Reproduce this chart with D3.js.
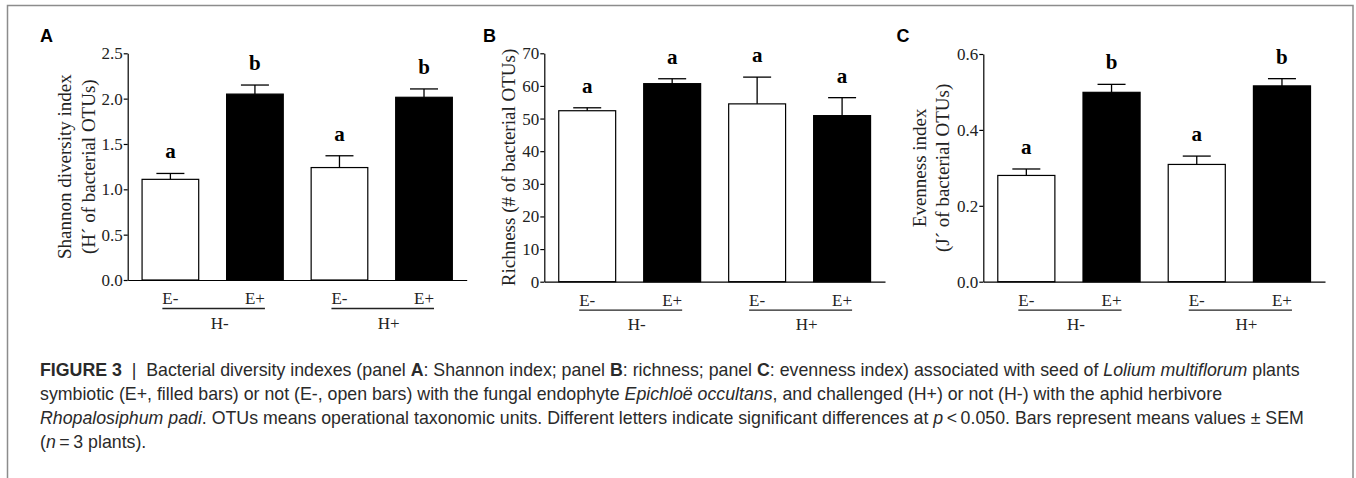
<!DOCTYPE html>
<html>
<head>
<meta charset="utf-8">
<script src="https://cdn.jsdelivr.net/npm/d3@7"></script>
<style>
  body { margin: 0; background: #fff; }
  svg { display: block; }
</style>
</head>
<body>
<div id="chart"></div>
<script>
// treatments (endophyte within herbivory)
const endophyte = ["E-", "E+", "E-", "E+"];
const herbivory = ["H-", "H+"];

// panel A: Shannon
const shannon = [1.11, 2.05, 1.24, 2.015];
const shannonSem = [0.065, 0.10, 0.13, 0.092];
const shannonLetters = ["a", "b", "a", "b"];
const shannonTicks = [0, 0.5, 1.0, 1.5, 2.0, 2.5];

// panel B: richness
const richness = [52.4, 60.7, 54.5, 50.9];
const richnessSem = [0.9, 1.5, 8.2, 5.5];
const richnessLetters = ["a", "a", "a", "a"];
const richnessTicks = [0, 10, 20, 30, 40, 50, 60, 70];

// panel C: evenness
const evenness = [0.280, 0.499, 0.309, 0.516];
const evennessSem = [0.017, 0.021, 0.022, 0.019];
const evennessLetters = ["a", "b", "a", "b"];
const evennessTicks = [0, 0.2, 0.4, 0.6];

const width = 1356, height = 478;
const serif = "'Liberation Serif', 'Times New Roman', serif";
const sans = "'Liberation Sans', Arial, Helvetica, sans-serif";

const svg = d3.select("#chart").append("svg")
    .attr("width", width)
    .attr("height", height);

// frame
svg.append("rect")
    .attr("x", 7.5).attr("y", 5.5)
    .attr("width", 1345.5).attr("height", 520)
    .attr("fill", "none")
    .attr("stroke", "#8c8c8c")
    .attr("stroke-width", 1.5);

const panels = [
    { id: "A", vals: shannon, sem: shannonSem, letters: shannonLetters, ticks: shannonTicks,
      max: 2.5, fmt: d3.format(".1f"), x0: 127.7, x1: 466.7, top: 53.3, bottom: 280,
      title: ["Shannon diversity index", "(H\u00b4 of bacterial OTUs)"], titleX: [71, 95], labelX: 40 },
    { id: "B", vals: richness, sem: richnessSem, letters: richnessLetters, ticks: richnessTicks,
      max: 70, fmt: d3.format("d"), x0: 544.3, x1: 885, top: 53.3, bottom: 281.7,
      title: ["Richness (# of bacterial OTUs)"], titleX: [515], labelX: 483 },
    { id: "C", vals: evenness, sem: evennessSem, letters: evennessLetters, ticks: evennessTicks,
      max: 0.6, fmt: d3.format(".1f"), x0: 983.3, x1: 1325, top: 54, bottom: 281.7,
      title: ["Evenness index", "(J\u00b4 of bacterial OTUs)"], titleX: [926, 949], labelX: 896.5 }
];

panels.forEach(p => {
    const g = svg.append("g");

    const x = d3.scaleBand()
        .domain(d3.range(endophyte.length))
        .range([p.x0, p.x1])
        .paddingInner(0.33)
        .paddingOuter(0.17);

    const y = d3.scaleLinear()
        .domain([0, p.max])
        .range([p.bottom, p.top]);

    // bars
    g.append("g")
        .selectAll("rect")
        .data(p.vals)
        .join("rect")
        .attr("x", (d, i) => x(i))
        .attr("y", d => y(d))
        .attr("width", x.bandwidth())
        .attr("height", d => y(0) - y(d))
        .attr("fill", (d, i) => endophyte[i] === "E+" ? "#000" : "#fff")
        .attr("stroke", "#000")
        .attr("stroke-width", 1.2);

    // error bars (upper only)
    const err = g.append("g").attr("stroke", "#000").attr("stroke-width", 1.3);
    p.vals.forEach((v, i) => {
        const cx = x(i) + x.bandwidth() / 2;
        err.append("line")
            .attr("x1", cx).attr("x2", cx)
            .attr("y1", y(v)).attr("y2", y(v + p.sem[i]));
        err.append("line")
            .attr("x1", cx - 14).attr("x2", cx + 14)
            .attr("y1", y(v + p.sem[i])).attr("y2", y(v + p.sem[i]));
    });

    // significance letters
    g.append("g")
        .selectAll("text")
        .data(p.letters)
        .join("text")
        .attr("x", (d, i) => x(i) + x.bandwidth() / 2)
        .attr("y", (d, i) => y(p.vals[i] + p.sem[i]) - 15)
        .attr("text-anchor", "middle")
        .attr("font-family", serif)
        .attr("font-weight", "bold")
        .attr("font-size", 21)
        .text(d => d);

    // y axis
    const yAxis = g.append("g")
        .attr("transform", `translate(${p.x0},0)`)
        .call(d3.axisLeft(y).tickValues(p.ticks).tickFormat(p.fmt)
            .tickSize(4).tickPadding(1).tickSizeOuter(0));
    yAxis.selectAll("path, line").attr("stroke", "#000").attr("stroke-width", 1.2);
    yAxis.selectAll("text")
        .attr("font-family", serif)
        .attr("font-size", 17)
        .attr("fill", "#222");

    // x axis baseline
    const xAxis = g.append("g")
        .attr("transform", `translate(0,${p.bottom})`)
        .call(d3.axisBottom(x).tickSize(0).tickSizeOuter(0).tickFormat(""));
    xAxis.select(".domain").attr("stroke", "#000").attr("stroke-width", 1.2);
    xAxis.selectAll(".tick").remove();

    // E labels
    const eLab = g.append("g")
        .selectAll("text")
        .data(endophyte)
        .join("text")
        .attr("x", (d, i) => x(i) + x.bandwidth() / 2)
        .attr("y", p.bottom + 24)
        .attr("text-anchor", "middle")
        .attr("font-family", serif)
        .attr("font-size", 17)
        .attr("fill", "#222")
        .text(d => d);
    const widths = eLab.nodes().map(n => n.getComputedTextLength());

    // H grouping lines and labels
    herbivory.forEach((h, k) => {
        const i0 = k * 2, i1 = k * 2 + 1;
        const xa = x(i0) + x.bandwidth() / 2 - widths[i0] / 2;
        const xb = x(i1) + x.bandwidth() / 2 + widths[i1] / 2;
        g.append("line")
            .attr("x1", xa).attr("x2", xb)
            .attr("y1", p.bottom + 28.5).attr("y2", p.bottom + 28.5)
            .attr("stroke", "#222").attr("stroke-width", 1.3);
        g.append("text")
            .attr("x", (xa + xb) / 2 + 6)
            .attr("y", p.bottom + 48.5)
            .attr("text-anchor", "middle")
            .attr("font-family", serif)
            .attr("font-size", 17)
            .attr("fill", "#222")
            .text(h);
    });

    // y title
    const cy = (p.top + p.bottom) / 2;
    p.title.forEach((t, k) => {
        g.append("text")
            .attr("transform", `translate(${p.titleX[k]},${cy}) rotate(-90)`)
            .attr("text-anchor", "middle")
            .attr("font-family", serif)
            .attr("font-size", 19)
            .attr("fill", "#222")
            .text(t);
    });

    // panel letter
    g.append("text")
        .attr("x", p.labelX).attr("y", 42)
        .attr("font-family", sans)
        .attr("font-weight", "bold")
        .attr("font-size", 18)
        .text(p.id);
});

// caption
const caption = [
    [["FIGURE 3", "b"], ["  |  ", ""], ["Bacterial diversity indexes (panel ", ""], ["A", "b"], [": Shannon index; panel ", ""],
     ["B", "b"], [": richness; panel ", ""], ["C", "b"], [": evenness index) associated with seed of ", ""],
     ["Lolium multiflorum", "i"], [" plants", ""]],
    [["symbiotic (E+, filled bars) or not (E-, open bars) with the fungal endophyte ", ""], ["Epichlo\u00eb occultans", "i"],
     [", and challenged (H+) or not (H-) with the aphid herbivore", ""]],
    [["Rhopalosiphum padi", "i"], [". OTUs means operational taxonomic units. Different letters indicate significant differences at ", ""],
     ["p", "i"], ["\u2009<\u20090.050. Bars represent means values \u00b1 SEM", ""]],
    [["(", ""], ["n", "i"], ["\u2009=\u20093 plants).", ""]]
];
const capY = [376, 400, 424, 448];

const cap = svg.append("g")
    .attr("font-family", sans)
    .attr("fill", "#2a2a2a");
const capLines = caption.map((parts, k) => {
    const t = cap.append("text")
        .attr("x", 40).attr("y", capY[k])
        .attr("xml:space", "preserve")
        .style("white-space", "pre");
    parts.forEach(([s, st]) => {
        t.append("tspan")
            .attr("font-weight", st === "b" ? "bold" : null)
            .attr("font-style", st === "i" ? "italic" : null)
            .text(s);
    });
    return t;
});
// fit the first caption line to its width in the figure
capLines.forEach(t => t.attr("font-size", 16));
const w0 = capLines[0].node().getComputedTextLength();
const fs = 16 * (1261 / w0);
capLines.forEach(t => t.attr("font-size", fs));
</script>
</body>
</html>
